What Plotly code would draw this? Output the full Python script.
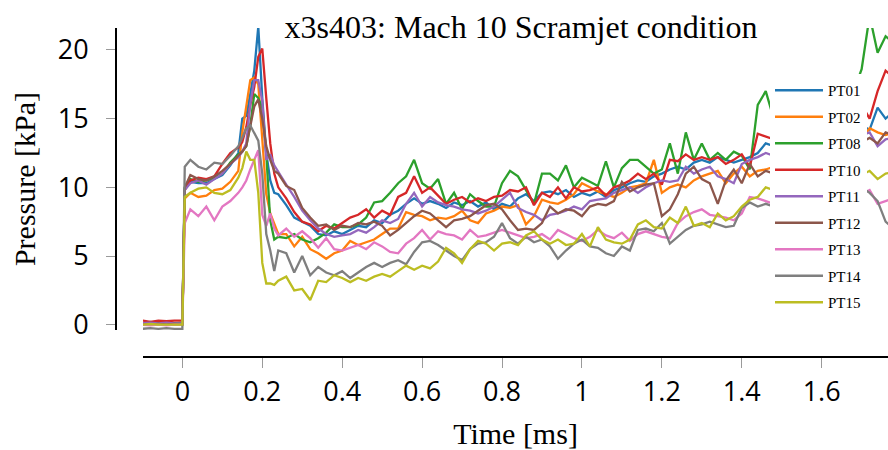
import plotly.graph_objects as go

time_ms = [
    -0.10, -0.08, -0.06, -0.04, -0.02, 0.00,
    0.006, 0.02, 0.04, 0.06, 0.08, 0.10, 0.12, 0.14,
    0.15, 0.16, 0.17, 0.18, 0.19, 0.20, 0.21, 0.22, 0.23, 0.24,
    0.26, 0.28, 0.30, 0.32, 0.34, 0.36, 0.38, 0.40,
    0.42, 0.44, 0.46, 0.48, 0.50, 0.52, 0.54, 0.56, 0.58, 0.60, 0.62, 0.64, 0.66,
    0.68, 0.70, 0.72, 0.74, 0.76, 0.78, 0.80, 0.82, 0.84, 0.86, 0.88, 0.90,
    0.92, 0.94, 0.96, 0.98, 1.00, 1.02, 1.04, 1.06, 1.08, 1.10, 1.12, 1.14, 1.16, 1.18,
    1.20, 1.22, 1.24, 1.26, 1.28, 1.30, 1.32, 1.34, 1.36, 1.38, 1.40, 1.42, 1.44, 1.46,
    1.48, 1.50, 1.52, 1.54, 1.56, 1.58, 1.60, 1.62, 1.64, 1.66, 1.68, 1.70, 1.72, 1.74, 1.76, 1.78,
]

PT01 = [
    0.1, 0.15, 0.1, 0.1, 0.15, 0.1,
    9.9, 10.4, 10.3, 10.3, 10.6, 10.9, 11.6, 12.5,
    15.0, 15.2, 16.8, 18.5, 21.7, 16.5, 12.5, 10.5, 9.6, 9.5,
    8.7, 7.8, 7.5, 7.2, 6.6, 6.5, 6.8, 6.6,
    6.9, 7.2, 7.1, 7.6, 7.4, 8.0, 8.3, 8.8, 9.2, 8.8, 9.0, 8.8, 8.5, 8.9, 8.7, 9.0, 8.6, 8.9, 8.4, 8.8, 8.6, 9.2, 9.5, 9.0, 9.6,
    9.7, 9.5, 9.8, 9.3, 9.6, 9.4, 9.7, 9.3, 9.8, 10.0, 10.3, 10.5, 10.4, 10.8, 11.0, 11.3, 11.5, 11.3, 11.8, 12.0, 11.8, 12.2, 12.0, 11.8, 12.0, 12.2, 12.5, 13.2,
    13.0, 13.2, 13.0, 13.4, 13.3, 13.6, 13.5, 13.8, 14.0, 14.0, 14.3, 14.5, 14.2, 15.8, 15.0, 15.5,
]
PT02 = [
    0.0, 0.05, 0.0, 0.05, 0.0, 0.05,
    9.2, 9.6, 9.3, 9.4, 9.8, 9.9, 10.4, 11.2,
    14.0, 15.9, 17.8, 18.0, 17.5, 13.5, 9.5, 8.1, 7.3, 6.6,
    6.6, 5.7, 6.4, 5.5, 5.2, 4.8, 5.2, 5.4,
    6.1, 5.8, 6.0, 6.2, 6.6, 7.0, 7.0, 8.2, 8.0, 7.9, 7.6, 7.8, 7.7, 7.9, 8.3, 7.6, 7.4, 8.1, 8.3, 8.6, 8.5, 8.7, 7.3, 7.9, 9.1,
    8.9, 8.8, 9.1, 9.5, 10.3, 10.0, 9.7, 9.5, 9.3, 9.6, 10.0, 10.1, 10.3, 12.0, 9.6, 10.0, 10.2, 10.0, 10.5, 10.8, 11.0, 11.2, 10.3, 11.0, 11.5, 10.8, 11.2, 11.3,
    11.5, 11.8, 11.6, 12.0, 12.1, 12.4, 12.3, 12.6, 12.8, 13.0, 13.3, 13.5, 14.3, 14.0, 13.8, 14.0,
]
PT08 = [
    0.1, 0.2, 0.1, 0.2, 0.1, 0.15,
    10.0, 10.6, 10.4, 10.5, 10.7, 11.0, 11.8, 12.4,
    12.6, 13.0, 14.5, 16.8, 16.5, 15.8, 12.4, 7.6, 6.2, 6.4,
    6.3, 6.6, 6.2, 6.0, 6.3, 6.7, 7.3, 7.1,
    7.1, 7.3, 7.8, 8.9, 9.0, 9.6, 10.3, 10.8, 12.0, 10.3, 9.9, 10.6, 8.8, 9.6, 8.4, 9.5, 9.0, 8.6, 8.6, 10.3, 11.2, 10.8, 9.8, 8.8, 11.0,
    11.0, 10.5, 11.6, 10.0, 10.7, 10.4, 10.1, 11.9, 10.0, 11.4, 12.0, 12.0, 11.5, 11.0, 11.3, 13.2, 11.0, 14.0, 12.0, 13.2, 12.0, 12.5, 12.0, 12.6, 12.3, 11.3, 16.0, 17.0,
    15.0, 16.0, 15.5, 16.5, 16.0, 17.0, 16.5, 17.2, 16.8, 17.3, 17.0, 18.6, 22.5, 19.8, 21.0, 20.5,
]
PT10 = [
    0.3, 0.2, 0.3, 0.25, 0.3, 0.3,
    9.8, 10.5, 10.7, 10.6, 10.8, 11.7, 12.5, 12.9,
    13.3, 14.4, 16.0, 17.3, 19.5, 20.1, 16.5, 13.2, 11.0, 10.0,
    9.2, 8.2, 7.5, 7.3, 6.8, 7.2, 7.0, 7.4,
    7.8, 8.0, 8.4, 7.8, 8.3, 8.0, 9.3, 9.6, 10.8, 9.6, 10.0, 9.4, 8.8, 9.1, 9.3, 8.9, 9.2, 9.0, 9.3, 9.4, 9.8, 9.7, 10.0, 8.7, 9.6,
    9.3, 10.0, 9.2, 10.0, 9.7, 9.8, 10.0, 9.4, 10.0, 10.2, 10.5, 11.0, 10.6, 11.0, 10.2, 12.0, 11.9, 12.4, 12.0, 12.2, 12.0, 12.2, 11.7, 12.0, 12.4, 11.5, 13.9, 13.7,
    13.5, 13.8, 14.0, 13.6, 14.2, 14.5, 14.3, 14.8, 15.0, 15.3, 15.8, 16.0, 15.0, 17.0, 18.5, 18.0,
]
PT11 = [
    0.1, 0.15, 0.1, 0.15, 0.1, 0.1,
    9.8, 10.3, 10.5, 10.2, 10.6, 11.0, 11.7, 12.2,
    12.6, 13.2, 16.1, 17.8, 17.8, 16.3, 12.0, 12.4, 11.6, 11.1,
    10.2, 9.3, 8.3, 7.6, 7.0, 6.6, 6.4, 6.5,
    6.6, 6.9, 6.7, 7.1, 7.6, 7.4, 7.7, 8.8, 9.6, 8.6, 9.3, 8.9, 8.7, 8.6, 8.4, 8.3, 8.1, 8.3, 8.6, 9.1, 9.6, 8.5, 8.2, 8.0, 7.6,
    8.0, 8.1, 8.3, 8.6, 8.4, 9.0, 9.1, 9.2, 9.6, 9.8, 10.0, 9.6, 10.0, 10.3, 10.5, 10.4, 10.5, 11.5, 11.0, 11.3, 11.5, 10.8, 10.6, 10.3, 11.7, 12.0, 12.2, 12.5,
    12.3, 12.5, 12.4, 12.7, 12.6, 12.9, 12.8, 13.0, 13.2, 13.3, 13.5, 13.8, 14.0, 13.0, 13.5, 13.6,
]
PT12 = [
    0.05, 0.0, 0.05, 0.0, 0.05, 0.0,
    10.0, 10.9, 10.6, 10.5, 10.8, 11.2, 11.7, 12.3,
    12.6, 13.0, 14.5, 15.9, 16.4, 15.0, 13.0, 12.0, 11.2, 11.0,
    10.1, 9.8, 8.5, 7.8, 7.2, 7.3, 6.9, 7.2,
    7.1, 7.4, 7.3, 7.5, 7.2, 6.5, 6.9, 7.4, 7.9, 8.3, 8.1, 7.6, 7.1, 7.6, 7.7, 7.9, 8.3, 8.7, 8.8, 8.4, 7.6, 6.9, 7.0, 6.9, 7.4,
    8.6, 8.1, 8.4, 8.3, 7.9, 8.6, 8.8, 8.7, 9.0, 10.4, 9.7, 10.0, 10.2, 10.3, 7.9, 8.4, 9.5, 11.0, 11.5, 10.6, 10.3, 8.8, 10.5, 11.3, 10.3, 11.7, 10.8, 11.2,
    11.0, 11.3, 11.6, 11.4, 11.8, 12.0, 12.2, 12.1, 12.5, 12.8, 13.0, 13.3, 13.6, 13.2, 14.0, 13.8,
]
PT13 = [
    0.0, -0.05, 0.0, -0.05, 0.0, 0.0,
    7.4, 8.4, 7.9, 8.6, 7.6, 8.6, 9.0, 9.6,
    10.0, 10.5, 11.3, 12.0, 12.7, 8.0, 7.2, 8.1, 7.0, 6.5,
    7.0, 6.4, 6.8, 6.3, 5.6, 6.3, 5.5, 5.4,
    5.6, 5.8, 5.5, 6.0, 5.7, 5.3, 5.2, 5.9, 6.3, 6.9, 6.2, 6.8, 6.6, 6.5, 6.2, 6.9, 6.4, 6.5, 6.7, 6.9, 6.7, 6.5, 6.3, 6.4, 6.6,
    6.2, 6.9, 6.6, 6.3, 6.1, 6.4, 6.9, 6.5, 6.3, 6.7, 6.1, 6.6, 6.8, 6.6, 6.4, 6.3, 7.4, 7.9, 8.2, 8.4, 8.0, 7.9, 7.8, 7.6, 8.1, 9.3, 9.2, 9.0,
    8.8, 8.9, 9.0, 8.8, 9.1, 9.0, 9.2, 9.1, 9.3, 9.2, 9.4, 9.5, 9.8, 8.8, 9.0, 9.2,
]
PT14 = [
    -0.3, -0.25, -0.3, -0.25, -0.3, -0.3,
    11.5, 12.0, 11.5, 11.3, 11.8, 11.7, 12.3, 13.0,
    13.6, 14.3, 14.5, 14.0, 13.4, 11.0, 6.6, 5.4, 3.9, 5.4,
    5.2, 3.8, 5.0, 3.6, 4.2, 3.8, 3.6, 3.9,
    3.4, 3.8, 4.2, 4.5, 4.2, 4.5, 4.7, 4.4, 5.3, 6.0, 6.1, 5.8, 5.4, 5.0, 4.7, 5.5, 5.9, 6.0, 6.4, 7.4, 6.3, 5.9, 6.4, 6.0, 6.2,
    5.7, 4.8, 5.4, 5.9, 6.2, 5.7, 5.6, 5.2, 5.0, 5.7, 5.4, 6.9, 7.0, 6.8, 7.4, 5.9, 6.4, 6.9, 7.2, 7.3, 7.5, 7.3, 7.1, 7.2, 8.5, 8.9, 8.6, 8.8,
    8.6, 8.9, 9.0, 8.8, 9.2, 9.1, 9.3, 9.4, 9.6, 9.5, 9.8, 10.0, 9.6, 9.0, 7.5, 7.0,
]
PT15 = [
    0.0, 0.05, 0.0, 0.0, 0.05, 0.0,
    9.3, 9.6, 9.9, 10.0, 9.6, 9.5, 9.8, 10.7,
    11.4, 12.6, 12.0, 12.0, 9.6, 4.5, 3.0, 3.0, 2.9, 3.2,
    3.5, 2.5, 2.6, 1.8, 3.2, 3.1, 3.6, 3.4,
    3.1, 3.4, 3.2, 3.5, 3.7, 3.5, 3.9, 4.3, 4.0, 4.3, 4.1, 4.6, 5.6, 5.2, 4.5, 5.5, 6.1, 5.9, 5.4, 5.9, 6.0, 5.8, 6.5, 6.8, 6.2,
    5.9, 6.2, 5.8, 5.9, 6.6, 5.7, 7.1, 6.2, 6.0, 5.9, 6.2, 7.3, 7.6, 7.1, 7.0, 7.8, 7.4, 8.6, 7.2, 7.4, 7.1, 8.1, 7.6, 7.9, 8.6, 9.1, 9.3, 10.0,
    9.8, 10.0, 10.1, 10.0, 10.2, 10.3, 10.4, 10.5, 10.6, 10.7, 10.8, 10.9, 11.2, 10.6, 11.0, 11.1,
]

series_names = ["PT01", "PT02", "PT08", "PT10", "PT11", "PT12", "PT13", "PT14", "PT15"]
series_values = [PT01, PT02, PT08, PT10, PT11, PT12, PT13, PT14, PT15]
series_colors = ["#1f77b4", "#ff7f0e", "#2ca02c", "#d62728", "#9467bd",
                 "#8c564b", "#e377c2", "#7f7f7f", "#bcbd22"]

x_tickvals = [0, 0.2, 0.4, 0.6, 0.8, 1.0, 1.2, 1.4, 1.6]
x_ticktext = ["0", "0.2", "0.4", "0.6", "0.8", "1", "1.2", "1.4", "1.6"]
y_tickvals = [0, 5, 10, 15, 20]
y_ticktext = ["0", "5", "10", "15", "20"]

fig = go.Figure()
for name, vals, col in zip(series_names, series_values, series_colors):
    fig.add_trace(go.Scatter(x=time_ms, y=vals, mode="lines", name=name,
                             legendgroup=name,
                             line=dict(color=col, width=2.3)))

# pixel geometry of the plotting region
L, R, T, B = 116, 888, 28, 357
W, H = R - L, B - T

serif = "Liberation Serif"
tickfont = dict(family="Open Sans", size=27, color="black")

fig.update_layout(
    width=888, height=450,
    margin=dict(l=L, r=888 - R, t=T, b=450 - B, pad=0),
    paper_bgcolor="white", plot_bgcolor="white",
    showlegend=True,
    title=dict(text="x3s403: Mach 10 Scramjet condition",
               font=dict(family=serif, size=32, color="black"),
               xref="paper", x=(521 - L) / W, xanchor="center",
               yref="container", y=1 - 27 / 450, yanchor="middle"),
    xaxis=dict(domain=[(143 - L) / W, 1], range=[-0.0985, 1.766],
               anchor="free", position=0,
               showline=True, linecolor="black", linewidth=2,
               ticks="outside", ticklen=10, tickwidth=1, tickcolor="#9a9a9a",
               tickvals=x_tickvals, ticktext=x_ticktext, tickfont=tickfont,
               ticklabelstandoff=1,
               showgrid=False, zeroline=False,
               title=dict(text="Time [ms]", font=dict(family=serif, size=30, color="black"),
                          standoff=17)),
    yaxis=dict(domain=[(B - 330) / H, 1], range=[-0.386, 21.6],
               anchor="free", position=0,
               showline=True, linecolor="black", linewidth=2,
               ticks="outside", ticklen=9, tickwidth=1, tickcolor="#9a9a9a",
               tickvals=y_tickvals, ticktext=y_ticktext, tickfont=tickfont,
               ticklabelstandoff=12,
               showgrid=False, zeroline=False,
               title=dict(text="Pressure [kPa]", font=dict(family=serif, size=30, color="black"),
                          standoff=12)),
    legend=dict(x=(770 - L) / W, xanchor="left",
                y=1 - (74 - T) / H, yanchor="top",
                bgcolor="white", borderwidth=0,
                font=dict(family=serif, size=15, color="black"),
                itemwidth=48, tracegroupgap=4, traceorder="grouped"),
)

fig.write_html("out.html", config={"displayModeBar": False})
